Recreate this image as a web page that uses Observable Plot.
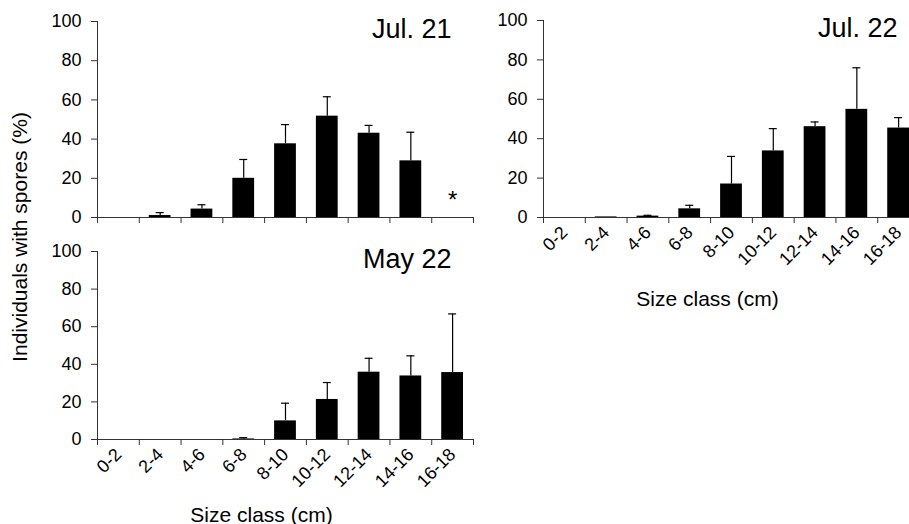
<!DOCTYPE html>
<html>
<head>
<meta charset="utf-8">
<script src="https://cdn.jsdelivr.net/npm/d3@7"></script>
<script src="https://cdn.jsdelivr.net/npm/@observablehq/plot@0.6"></script>
<style>
  html, body { margin: 0; padding: 0; background: #fff; }
  #wrap { position: relative; width: 909px; height: 524px; overflow: hidden; background: #fff;
          font-family: "Liberation Sans", Arial, sans-serif; color: #000; }
  #ylab { position: absolute; left: 20px; top: 237px; transform: translate(-50%, -50%) rotate(-90deg);
          white-space: nowrap; font-size: 21px; font-family: "Liberation Sans", Arial, sans-serif; }
</style>
</head>
<body>
<div id="wrap">
  <div id="ylab"></div>
</div>
<script>
// ---- data ----
const sizeClasses = ["0-2", "2-4", "4-6", "6-8", "8-10", "10-12", "12-14", "14-16", "16-18"];
const yTicks = [0, 20, 40, 60, 80, 100];
const panelTitles = ["Jul. 21", "May 22", "Jul. 22"];
const xTitle = "Size class (cm)";
const yTitle = "Individuals with spores (%)";
const noDataMark = "*";

const jul21Mean = [0, 1.0, 4.3, 20.0, 37.6, 51.7, 43.0, 28.9, null];
const jul21Err  = [0, 1.5, 2.2, 9.6, 9.8, 9.9, 4.0, 14.6, null];
const may22Mean = [0, 0, 0, 0.3, 9.9, 21.3, 35.8, 33.8, 35.6];
const may22Err  = [0, 0, 0, 0.7, 9.4, 9.0, 7.4, 10.7, 31.2];
const jul22Mean = [0, 0.3, 0.7, 4.4, 17.0, 33.8, 46.1, 54.9, 45.4];
const jul22Err  = [0, 0, 0.4, 1.8, 14.0, 11.3, 2.4, 21.1, 5.3];

document.getElementById("ylab").textContent = yTitle;

function rows(means, errs) {
  return sizeClasses.map((c, i) => {
    const [lo, hi] = c.split("-").map(Number);
    return {cls: c, lo, hi, mid: (lo + hi) / 2, mean: means[i], err: errs[i]};
  });
}
const bounds = Array.from(new Set(sizeClasses.flatMap(c => c.split("-").map(Number))));

function panel({data, title, left, top, marginLeft, marginTop, plotH, marginBottom, showLabels, xTitleDy}) {
  const xSpan = 376;
  const marginRight = 12;
  const withErr = data.filter(d => d.mean != null && d.err > 0);
  const missing = data.filter(d => d.mean == null);
  const fontSize = 18;
  const marks = [
    Plot.rectY(data.filter(d => d.mean != null && d.mean > 0),
      {x1: "lo", x2: "hi", y: "mean", insetLeft: 10, insetRight: 10, fill: "#000"}),
    Plot.ruleX(withErr, {x: "mid", y1: "mean", y2: d => d.mean + d.err, stroke: "#000", strokeWidth: 1.2}),
    Plot.ruleY(withErr, {y: d => d.mean + d.err, x1: "mid", x2: "mid", insetLeft: -4, insetRight: -4, stroke: "#000", strokeWidth: 1.2}),
    Plot.text(missing, {x: "mid", y: 0, text: () => noDataMark, dy: -17, fontSize: 24}),
    Plot.ruleX([0], {stroke: "#333"}),
    Plot.ruleY([0], {stroke: "#333"}),
    Plot.axisY({ticks: yTicks, tickSize: 6, tickPadding: 10, fontSize, stroke: "#333", label: null}),
    Plot.axisX({ticks: bounds, tickSize: 6, tickFormat: () => "", stroke: "#333", label: null}),
    Plot.text([title], {frameAnchor: "top-right", dx: -22, dy: -3, fontSize: 27, lineAnchor: "top"})
  ];
  if (showLabels) {
    marks.push(
      Plot.axisX({ticks: data.map(d => d.mid), tickSize: 0, tickPadding: 12, tickRotate: -45,
        tickFormat: m => data.find(d => d.mid === m).cls, fontSize, label: null}),
      Plot.text([xTitle], {frameAnchor: "bottom", dx: -24, dy: xTitleDy, fontSize: 21, lineAnchor: "bottom"})
    );
  }
  const chart = Plot.plot({
    width: marginLeft + xSpan + marginRight,
    height: marginTop + plotH + marginBottom,
    marginLeft, marginRight, marginTop, marginBottom,
    style: {fontFamily: "'Liberation Sans', Arial, sans-serif", background: "transparent", color: "#000"},
    x: {domain: [0, 18], axis: null},
    y: {domain: [0, 100], axis: null},
    marks
  });
  chart.style.position = "absolute";
  chart.style.left = left + "px";
  chart.style.top = top + "px";
  document.getElementById("wrap").appendChild(chart);
}

panel({data: rows(jul21Mean, jul21Err), title: panelTitles[0], left: 0, top: 0,
  marginLeft: 97, marginTop: 21, plotH: 196, marginBottom: 10, showLabels: false});
panel({data: rows(may22Mean, may22Err), title: panelTitles[1], left: 0, top: 230,
  marginLeft: 97, marginTop: 21, plotH: 188, marginBottom: 90, showLabels: true, xTitleDy: 82});
panel({data: rows(jul22Mean, jul22Err), title: panelTitles[2], left: 460, top: 0,
  marginLeft: 83, marginTop: 20, plotH: 197, marginBottom: 100, showLabels: true, xTitleDy: 88});
</script>
</body>
</html>
